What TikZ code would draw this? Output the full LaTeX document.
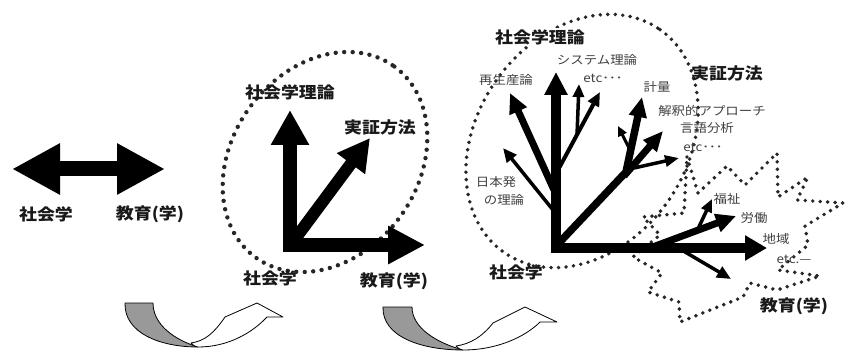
\documentclass[tikz,border=0pt]{standalone}
\usepackage{fontspec}
\newfontfamily\jp[FakeStretch=1.12]{Noto Sans CJK JP}
\usetikzlibrary{arrows.meta}
\begin{document}
\begin{tikzpicture}[x=1pt,y=-1pt,
  big/.style={font=\jp\bfseries\fontsize{16}{16}\selectfont, text=black!90, inner sep=0pt},
  small/.style={font=\jp\fontsize{12}{12}\selectfont, text=black!75, inner sep=0pt},
  dotline/.style={line width=4.4pt, dash pattern=on 0pt off 8.5pt, line cap=round, black!85},
  dotstar/.style={line width=3.9pt, dash pattern=on 0pt off 7.5pt, line cap=round, black!85},
  ar/.style n args={3}{line width=#1, line join=round, -{Triangle[length=#2,width=#3]}},
  uturn/.style={draw=black, line width=0.8pt, line join=round}]
\fill[white] (0,0) rectangle (845,355);
\useasboundingbox (0,0) rectangle (845,355);

% ---------- left: double arrow ----------
\coordinate (dl) at (12,169);
\coordinate (dr) at (165,169);
\draw[line width=15pt, {Triangle[length=48pt,width=48pt]}-{Triangle[length=48pt,width=48pt]}] (dl) -- (dr);
\node[big] (l1) at (46,214) {社会学};
\node[big] (l2) at (150,214) {教育(学)};

% ---------- middle ----------
\draw[dotline] (325,162) [rotate around={54:(325,162)}] ellipse [x radius=118, y radius=93];
\coordinate (mv0) at (290,252);
\coordinate (mvt) at (290,110);
\coordinate (mh0) at (283,245);
\coordinate (mht) at (425,245);
\coordinate (md0) at (292,243);
\coordinate (mdt) at (370,138);
\draw[ar={14pt}{35pt}{36pt}] (mv0) -- (mvt);
\draw[ar={14pt}{37pt}{36pt}] (mh0) -- (mht);
\draw[ar={12pt}{32pt}{33pt}] (md0) -- (mdt);
\node[big] (m1) at (290,92) {社会学理論};
\node[big] (m2) at (380,127) {実証方法};
\node[big] (m3) at (270,278) {社会学};
\node[big] (m4) at (394,281) {教育(学)};

% ---------- right ----------
\draw[dotstar] (582,141) [rotate around={55:(582,141)}] ellipse [x radius=136, y radius=105];
\draw[dotstar] (687,157) -- (698,193) -- (727,166) -- (745,185) -- (777,153) -- (778,197)
  -- (808,177) -- (797,200) -- (843,203) -- (805,226) -- (808,245) -- (778,270)
  -- (820,276) -- (777,290) -- (750,283) -- (743,297) -- (680,322) -- (679,302)
  -- (648,292) -- (662,273) -- (633,257) -- (660,235) -- (643,217) -- (684,213) -- cycle;

\coordinate (rv0) at (556,253);
\coordinate (rvt) at (556,72);
\coordinate (rh0) at (552,248);
\coordinate (rht) at (767,248);
\draw[ar={9.5pt}{23pt}{22pt}] (rv0) -- (rvt);
\draw[ar={10pt}{22pt}{24pt}] (rh0) -- (rht);

% theory branches
\coordinate (a1) at (554,190); \coordinate (a1t) at (510,93);
\coordinate (a2) at (553,210); \coordinate (a2t) at (503,148);
\coordinate (a3) at (558,170); \coordinate (a3t) at (600,92);
\coordinate (a4) at (577,135); \coordinate (a4t) at (579,84);
\draw[ar={7pt}{20pt}{18pt}] (a1) -- (a1t);
\draw[ar={3.5pt}{14pt}{12pt}] (a2) -- (a2t);
\draw[ar={4pt}{14pt}{12pt}] (a3) -- (a3t);
\draw[ar={3.5pt}{13pt}{11pt}] (a4) -- (a4t);

% method branches
\coordinate (b0) at (558,244); \coordinate (bj) at (626,172); \coordinate (bt) at (642,97);
\draw[ar={7.5pt}{20pt}{17pt}] (b0) -- (bj) -- (bt);
\coordinate (b1) at (630,150); \coordinate (b1t) at (618,126);
\draw[ar={3pt}{10pt}{9pt}] (b1) -- (b1t);
\coordinate (b2) at (624,176); \coordinate (b2t) at (663,131);
\draw[ar={7pt}{20pt}{17pt}] (b2) -- (b2t);
\coordinate (b3) at (634,168); \coordinate (b3t) at (679,158);
\draw[ar={3.5pt}{14pt}{11pt}] (b3) -- (b3t);

% education branches
\coordinate (c1) at (650,248); \coordinate (c1t) at (736,216);
\draw[ar={7pt}{20pt}{18pt}] (c1) -- (c1t);
\coordinate (c2) at (697,231); \coordinate (c2t) at (712,199);
\draw[ar={3.5pt}{13pt}{11pt}] (c2) -- (c2t);
\coordinate (c3) at (680,249); \coordinate (c3t) at (731,279);
\draw[ar={3.5pt}{14pt}{12pt}] (c3) -- (c3t);

% right labels
\node[big, fill=white, inner sep=1pt] (r1) at (540,37) {社会学理論};
\node[big] (r2) at (727,73) {実証方法};
\node[big] (r3) at (516,272) {社会学};
\node[big] (r4) at (794,306) {教育(学)};
\node[small] (s1) at (597,60) {システム理論};
\node[small] (s2) at (506,80) {再生産論};
\node[small] (s3) at (603,78) {etc･･･};
\node[small] (s4) at (657,87) {計量};
\node[small] (s5) at (712,111) {解釈的アプローチ};
\node[small] (s6) at (707,128) {言語分析};
\node[small] (s7) at (703,147) {etc･･･};
\node[small] (s8) at (496,182) {日本発};
\node[small] (s9) at (504,200) {の理論};
\node[small] (s10) at (727,199) {福祉};
\node[small] (s11) at (754,218) {労働};
\node[small] (s12) at (776,239) {地域};
\node[small] (s13) at (794,259) {etc.—};

% ---------- bottom U-turn arrows ----------
\path[uturn, fill=black!40] (125,303) .. controls (124,333) and (160,347) .. (198,347)
  .. controls (175,340) and (153,325) .. (153,303) -- cycle;
\path[uturn, fill=white] (198,347) .. controls (228,347) and (252,333) .. (267,317)
  -- (283,317) -- (257,303) -- (225,317) .. controls (214,333) and (205,341) .. (191,343)
  .. controls (194,346) and (196,347) .. (198,347) -- cycle;
\path[uturn, fill=black!40] (383,307) .. controls (382,337) and (422,350) .. (463,350)
  .. controls (437,343) and (412,328) .. (412,307) -- cycle;
\path[uturn, fill=white] (463,350) .. controls (497,350) and (525,337) .. (540,322)
  -- (557,322) -- (525,307) -- (493,323) .. controls (482,337) and (470,344) .. (456,346)
  .. controls (459,349) and (461,350) .. (463,350) -- cycle;
\end{tikzpicture}
\end{document}
